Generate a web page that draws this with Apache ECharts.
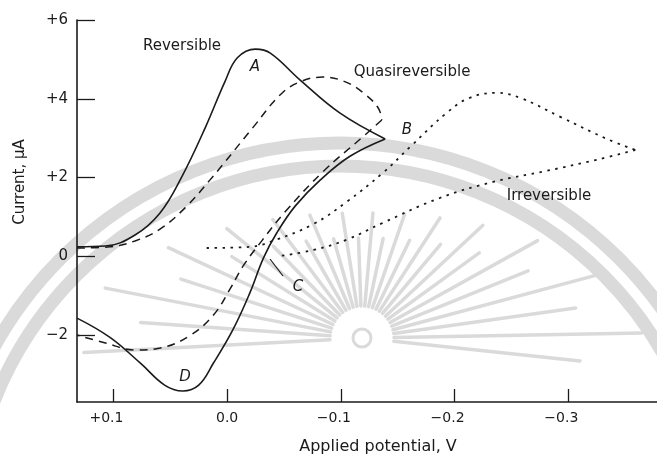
<!DOCTYPE html>
<html>
<head>
<meta charset="utf-8">
<script src="https://cdn.jsdelivr.net/npm/echarts@6/dist/echarts.min.js"></script>
<style>
  html, body { margin: 0; padding: 0; background: #ffffff; }
  #chart { width: 657px; height: 460px; }
</style>
</head>
<body>
<div id="chart"></div>
<script>
// Cyclic voltammograms: [potential V, current µA]
const revForward = [
  [0.132, 0.24], [0.107, 0.26], [0.081, 0.54], [0.059, 1.10], [0.040, 2.01],
  [0.019, 3.28], [0.002, 4.43], [-0.009, 5.04], [-0.025, 5.26], [-0.038, 5.16],
  [-0.064, 4.48], [-0.099, 3.64], [-0.139, 2.98]
];
const revReturn = [
  [-0.139, 2.98], [-0.108, 2.54], [-0.082, 1.94], [-0.060, 1.28], [-0.044, 0.61],
  [-0.032, -0.04], [-0.020, -0.93], [-0.005, -1.87], [0.012, -2.71], [0.025, -3.27],
  [0.039, -3.42], [0.055, -3.27], [0.076, -2.72], [0.103, -2.06], [0.132, -1.57]
];
const quasiForward = [
  [0.132, 0.21], [0.103, 0.24], [0.081, 0.39], [0.059, 0.69], [0.037, 1.23],
  [0.015, 1.94], [-0.023, 3.28], [-0.047, 4.11], [-0.064, 4.43], [-0.084, 4.55],
  [-0.104, 4.43], [-0.121, 4.12], [-0.133, 3.76], [-0.136, 3.46]
];
const quasiReturn = [
  [-0.136, 3.46], [-0.120, 3.05], [-0.084, 2.14], [-0.051, 1.13], [-0.031, 0.41],
  [-0.014, -0.25], [-0.003, -0.81], [0.012, -1.49], [0.033, -2.02], [0.059, -2.33],
  [0.081, -2.38], [0.107, -2.20], [0.132, -2.00]
];
const irrevForward = [
  [0.018, 0.21], [-0.020, 0.24], [-0.042, 0.41], [-0.076, 0.82], [-0.105, 1.38],
  [-0.137, 2.12], [-0.161, 2.78], [-0.193, 3.64], [-0.213, 4.02], [-0.237, 4.15],
  [-0.258, 4.02], [-0.293, 3.54], [-0.334, 2.98], [-0.359, 2.70]
];
const irrevReturn = [
  [-0.359, 2.70], [-0.325, 2.45], [-0.281, 2.17], [-0.234, 1.89], [-0.187, 1.48],
  [-0.137, 0.85], [-0.105, 0.42], [-0.076, 0.16], [-0.047, 0.01]
];

// Axis ticks and their printed labels
const xTicks = [0.1, 0.0, -0.1, -0.2, -0.3];
const xTickLabels = ['+0.1', '0.0', '\u22120.1', '\u22120.2', '\u22120.3'];
const yTicks = [-2, 0, 2, 4, 6];
const yTickLabels = ['\u22122', '0', '+2', '+4', '+6'];

const INK = '#1b1b1b';
const WM = '#dadada';
const FONT = 'DejaVu Sans';

// Faint seal drawn behind the plot: two rings and a burst of rays
const seal = [];
seal.push({ type: 'circle', z: -10, silent: true,
  shape: { cx: 340, cy: 538, r: 395 }, style: { fill: null, stroke: WM, lineWidth: 13 } });
seal.push({ type: 'circle', z: -10, silent: true,
  shape: { cx: 340, cy: 538, r: 372 }, style: { fill: null, stroke: WM, lineWidth: 13 } });
const sunX = 362, sunY = 338;
for (let a = -6; a <= 186; a += 7) {
  const t = a * Math.PI / 180;
  const long = (Math.round(a / 7) % 2 === 0);
  const ea = 280, eb = 125;
  let rOut = ea * eb / Math.sqrt(Math.pow(eb * Math.cos(t), 2) + Math.pow(ea * Math.sin(t), 2));
  if (!long) rOut *= 0.8;
  const rIn = 32;
  seal.push({ type: 'line', z: -10, silent: true,
    shape: { x1: sunX + rIn * Math.cos(t), y1: sunY - rIn * Math.sin(t),
             x2: sunX + rOut * Math.cos(t), y2: sunY - rOut * Math.sin(t) },
    style: { stroke: WM, lineWidth: 3.5, lineCap: 'round' } });
}
seal.push({ type: 'circle', z: -10, silent: true,
  shape: { cx: sunX, cy: sunY, r: 9 }, style: { fill: null, stroke: WM, lineWidth: 3 } });

function txt(x, y, s, size, extra) {
  return Object.assign({ type: 'text', x: x, y: y, z: 20, silent: true,
    style: { text: s, fill: INK, font: (size || 15) + 'px "' + FONT + '"',
      align: 'center', verticalAlign: 'middle' } }, extra || {});
}
function italic(x, y, s) {
  const t = txt(x, y, s, 15);
  t.style.font = 'italic 15px "' + FONT + '"';
  return t;
}

const notes = [
  txt(182, 46, 'Reversible', 15),
  txt(412, 72, 'Quasireversible', 15),
  txt(549, 196, 'Irreversible', 15),
  italic(255, 67, 'A'),
  italic(407, 130, 'B'),
  italic(298, 287, 'C'),
  italic(185, 377, 'D'),
  { type: 'line', z: 20, silent: true, shape: { x1: 270, y1: 259, x2: 283, y2: 276 },
    style: { stroke: INK, lineWidth: 1.2 } },
  txt(378, 447, 'Applied potential, V', 16),
  txt(20, 182, 'Current, \u03bcA', 15, { rotation: Math.PI / 2 })
];

function curve(name, data, width, dash) {
  return {
    name: name, type: 'line', data: data, showSymbol: false, smooth: 0.4,
    silent: true, z: 5,
    lineStyle: { color: INK, width: width, type: dash }
  };
}

const chart = echarts.init(document.getElementById('chart'), null, { renderer: 'canvas' });
chart.setOption({
  backgroundColor: '#ffffff',
  animation: false,
  grid: { left: 77, right: 0, top: 20, bottom: 58 },
  xAxis: {
    type: 'value', inverse: true, min: -0.378, max: 0.132,
    axisLine: { show: true, onZero: false, lineStyle: { color: INK, width: 1.5 } },
    axisTick: { show: true, inside: true, length: 13, customValues: xTicks,
      lineStyle: { color: INK, width: 1.3 } },
    axisLabel: {
      customValues: xTicks, margin: 9,
      formatter: function (v) {
        const i = xTicks.findIndex(function (t) { return Math.abs(t - v) < 1e-6; });
        const s = i >= 0 ? xTickLabels[i] : '';
        return Math.abs(v) < 1e-6 ? '{n|' + s + '}' : '{n|' + s + '}{p| }';
      },
      rich: {
        n: { fontFamily: FONT, fontSize: 14, color: INK },
        p: { width: 14, fontSize: 14 }
      }
    },
    splitLine: { show: false }
  },
  yAxis: {
    type: 'value', min: -3.7, max: 6,
    axisLine: { show: true, onZero: false, lineStyle: { color: INK, width: 1.6 } },
    axisTick: { show: true, inside: true, length: 18, customValues: yTicks,
      lineStyle: { color: INK, width: 1.3 } },
    axisLabel: {
      customValues: yTicks, margin: 9, color: INK, fontFamily: FONT, fontSize: 15,
      formatter: function (v) {
        const i = yTicks.findIndex(function (t) { return Math.abs(t - v) < 1e-6; });
        return i >= 0 ? yTickLabels[i] : '';
      }
    },
    splitLine: { show: false }
  },
  graphic: seal.concat(notes),
  series: [
    curve('Reversible', revForward, 1.6, 'solid'),
    curve('Reversible return', revReturn, 1.6, 'solid'),
    curve('Quasireversible', quasiForward, 1.5, [8, 6]),
    curve('Quasireversible return', quasiReturn, 1.5, [8, 6]),
    curve('Irreversible', irrevForward, 1.8, [2.5, 5.5]),
    curve('Irreversible return', irrevReturn, 1.8, [2.5, 5.5])
  ]
});
</script>
</body>
</html>
